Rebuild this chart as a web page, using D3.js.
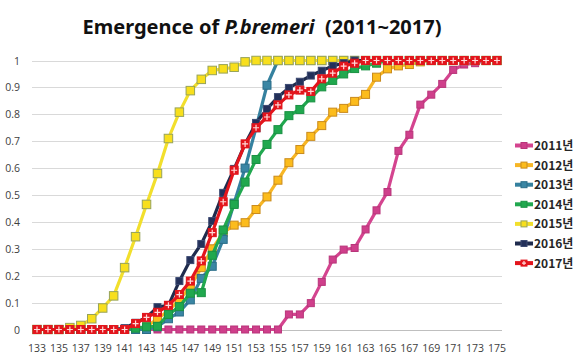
<!DOCTYPE html>
<html>
<head>
<meta charset="utf-8">
<script src="https://cdn.jsdelivr.net/npm/d3@7"></script>
<style>
body { margin: 0; background: #fff; }
</style>
</head>
<body>
<script>
var width = 580,
    height = 363;

// days of the year (category axis)
var days = d3.range(133, 176);
var tickDays = days.filter(function(d){ return (d - 133) % 2 == 0; });
var yTicks = [0, 0.1, 0.2, 0.3, 0.4, 0.5, 0.6, 0.7, 0.8, 0.9, 1];

var years = ["2011년", "2012년", "2013년", "2014년", "2015년", "2016년", "2017년"];

var v2011 = [0,0,0,0,0,0,0,0,0,0,0,0,0,0,0,0,0,0,0,0,0,0,0,
  0.056,0.056,0.098,0.177,0.26,0.297,0.303,0.372,0.443,0.511,0.664,0.724,0.836,0.873,0.913,0.965,0.985,0.99,1,1];
var v2012 = [0,0,0,0,0,0,0,0,0,0,
  0.01,0.04,0.07,0.11,0.16,0.23,0.3,0.36,0.388,0.397,0.446,0.493,0.555,0.62,0.669,0.718,0.758,0.808,0.822,0.848,0.874,0.938,0.969,0.98,0.985,0.995,
  1,1,1,1,1,1,1];
var v2013 = [0,0,0,0,0,0,0,0,0,0,0,
  0.01,0.04,0.065,0.11,0.19,0.235,0.335,0.47,0.6,0.75,0.908,
  1,1,1,1,1,1,1,1,1,1,1,1,1,1,1,1,1,1,1,1,1];
var v2014 = [0,0,0,0,0,0,0,0,0,
  0.005,0.01,0.012,0.056,0.085,0.135,0.137,0.276,0.37,0.465,0.548,0.632,0.688,0.743,0.795,0.818,0.861,0.902,0.926,0.95,0.97,0.98,0.99,
  1,1,1,1,1,1,1,1,1,1,1];
var v2015 = [0,0,0,
  0.007,0.015,0.04,0.08,0.125,0.23,0.345,0.465,0.58,0.71,0.808,0.888,0.93,0.963,0.969,0.975,0.995,
  1,1,1,1,1,1,1,1,1,1,1,1,1,1,1,1,1,1,1,1,1,1,1];
var v2016 = [0,0,0,0,0,0,0,0,
  0.005,0.025,0.045,0.083,0.09,0.18,0.258,0.318,0.403,0.508,0.597,0.69,0.768,0.82,0.864,0.898,0.921,0.944,0.962,0.98,0.99,
  1,1,1,1,1,1,1,1,1,1,1,1,1,1];
var v2017 = [0,0,0,0,0,0,0,0,0,
  0.022,0.045,0.064,0.09,0.13,0.18,0.255,0.36,0.475,0.592,0.69,0.75,0.79,0.835,0.872,0.89,0.885,0.932,0.953,0.979,0.99,
  1,1,1,1,1,1,1,1,1,1,1,1,1];

var values = [v2011, v2012, v2013, v2014, v2015, v2016, v2017];
var lineColors   = ["#d4448f", "#f7b625", "#35819f", "#21a84f", "#f2df2c", "#1f2b4d", "#e3151c"];
var markerFill   = ["#cf3f8b", "#fcbc1c", "#3a86a4", "#20a84e", "#f8df1c", "#23305a", "#e3151c"];
var markerStroke = ["#b8357a", "#c98a1c", "#2b6d88", "#1a9143", "#97a35a", "#3c4a72", "#e3151c"];
var markerSize   = [7, 8, 8, 8, 8.5, 7, 8];

var svg = d3.select("body").append("svg")
    .attr("width", width)
    .attr("height", height)
    .style("font-family", "'Open Sans', 'Noto Sans', sans-serif");

var x = d3.scalePoint()
    .domain(days)
    .range([37, 497]);

var y = d3.scaleLinear()
    .domain([0, 1])
    .range([329.5, 60.5]);

// title
var title = svg.append("text")
    .attr("x", 262)
    .attr("y", 34)
    .attr("text-anchor", "middle")
    .attr("font-size", 20)
    .attr("font-weight", "bold")
    .attr("font-family", "'Noto Sans', sans-serif")
    .attr("fill", "#111")
    .style("white-space", "pre");
title.append("tspan").text("Emergence of ");
title.append("tspan").attr("font-style", "italic").text("P.bremeri");
title.append("tspan").text("  (2011~2017)");

// gridlines
svg.append("g")
    .selectAll("line")
    .data(yTicks)
    .enter().append("line")
      .attr("x1", 32)
      .attr("x2", 502)
      .attr("y1", function(d){ return Math.round(y(d)) + 0.5; })
      .attr("y2", function(d){ return Math.round(y(d)) + 0.5; })
      .attr("stroke", function(d){ return d == 0 ? "#bfbfbf" : "#d9d9d9"; })
      .attr("stroke-width", 1);

// y labels
svg.append("g")
    .selectAll("text")
    .data(yTicks)
    .enter().append("text")
      .attr("x", 20)
      .attr("y", function(d){ return y(d) + 4; })
      .attr("text-anchor", "end")
      .attr("font-size", 10.5)
      .attr("fill", "#404040")
      .text(function(d){ return d3.format("~g")(d); });

// x labels
svg.append("g")
    .selectAll("text")
    .data(tickDays)
    .enter().append("text")
      .attr("x", function(d){ return x(d); })
      .attr("y", 352)
      .attr("text-anchor", "middle")
      .attr("font-size", 10.5)
      .attr("fill", "#404040")
      .text(function(d){ return d; });

var line = d3.line()
    .x(function(d, i){ return x(days[i]); })
    .y(function(d){ return y(d); });

function drawMarker(sel, k, cx, cy, s)
{
  sel.append("rect")
    .attr("x", cx - s/2)
    .attr("y", cy - s/2)
    .attr("width", s)
    .attr("height", s)
    .attr("fill", markerFill[k])
    .attr("stroke", markerStroke[k])
    .attr("stroke-width", 1);

  // 2017 has a white plus inside the marker
  if(k == 6)
  {
    sel.append("path")
      .attr("d", "M" + (cx - s/2 + 1) + "," + cy + "H" + (cx + s/2 - 1) +
                 "M" + cx + "," + (cy - s/2 + 1) + "V" + (cy + s/2 - 1))
      .attr("stroke", "#ffd9d9")
      .attr("stroke-width", 1.2);
  }
}

var series = svg.append("g");

for(var k = 0; k < values.length; k++)
{
  var g = series.append("g");

  g.append("path")
    .datum(values[k])
    .attr("d", line)
    .attr("fill", "none")
    .attr("stroke", lineColors[k])
    .attr("stroke-width", 3.2)
    .attr("stroke-linejoin", "round");

  for(var i = 0; i < values[k].length; i++)
    drawMarker(g, k, x(days[i]), y(values[k][i]), markerSize[k]);
}

// legend
var legend = svg.append("g");

for(var k = 0; k < years.length; k++)
{
  var ly = 145.5 + k * 19.6;
  var lg = legend.append("g");

  lg.append("line")
    .attr("x1", 515)
    .attr("x2", 533)
    .attr("y1", ly)
    .attr("y2", ly)
    .attr("stroke", lineColors[k])
    .attr("stroke-width", 4);

  drawMarker(lg, k, 524, ly, 6);

  lg.append("text")
    .attr("x", 534)
    .attr("y", ly + 4.5)
    .attr("font-size", 12)
    .attr("font-weight", "bold")
    .attr("font-family", "'Noto Sans CJK KR', sans-serif")
    .attr("fill", "#262626")
    .text(years[k]);
}
</script>
</body>
</html>
